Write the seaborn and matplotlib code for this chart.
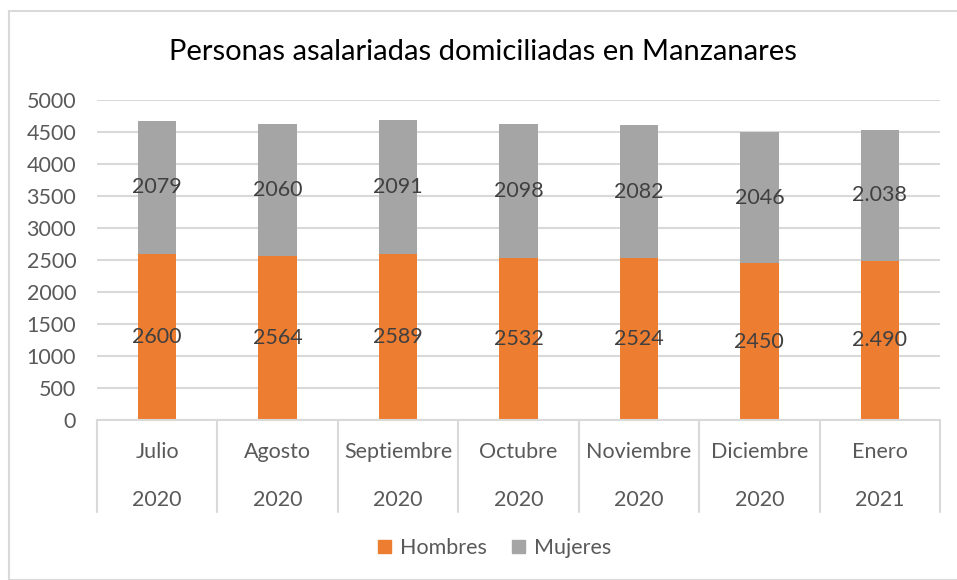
import numpy as np
import pandas as pd
import matplotlib
matplotlib.use("Agg")
import matplotlib.pyplot as plt
from matplotlib.patches import Rectangle, Patch
from matplotlib.transforms import blended_transform_factory
import seaborn as sns

# data
meses = ["Julio", "Agosto", "Septiembre", "Octubre", "Noviembre", "Diciembre", "Enero"]
anios = ["2020", "2020", "2020", "2020", "2020", "2020", "2021"]
hombres = [2600, 2564, 2589, 2532, 2524, 2450, 2490]
mujeres = [2079, 2060, 2091, 2098, 2082, 2046, 2038]
etiq_hombres = ["2600", "2564", "2589", "2532", "2524", "2450", "2.490"]
etiq_mujeres = ["2079", "2060", "2091", "2098", "2082", "2046", "2.038"]

naranja = "#ED7D31"
gris = "#A5A5A5"
texto = "#595959"
linea = "#D9D9D9"
fs = 15.5

df = pd.DataFrame({"mes": meses, "hombres": hombres, "mujeres": mujeres})
df["total"] = df["hombres"] + df["mujeres"]

sns.set_theme(style="white")
plt.rcParams["font.family"] = ["Lato", "DejaVu Sans"]

fig = plt.figure(figsize=(9.57, 5.8), dpi=100)
W, H = 957, 580
ax = fig.add_axes([97 / W, 1 - 420 / H, (940 - 97) / W, 320 / H])

# stacked bars: total in gray, hombres in orange on top of it
sns.barplot(data=df, x="mes", y="total", color=gris, width=0.32, saturation=1,
            linewidth=0, ax=ax)
sns.barplot(data=df, x="mes", y="hombres", color=naranja, width=0.32, saturation=1,
            linewidth=0, ax=ax)

ax.set_ylim(0, 5000)
ax.set_xlim(-0.5, len(meses) - 0.5)
ax.set_yticks(np.arange(0, 5001, 500))
ax.yaxis.grid(True, color=linea, linewidth=1.5)
ax.set_axisbelow(True)
ax.set_xlabel("")
ax.set_ylabel("")
ax.set_xticks([])
ax.tick_params(axis="y", labelsize=fs, colors=texto, length=0, pad=15)
for s in ["top", "right", "left"]:
    ax.spines[s].set_visible(False)
ax.spines["bottom"].set_color(linea)
ax.spines["bottom"].set_linewidth(1.5)

# data labels centred in each segment
for i in range(len(meses)):
    ax.text(i, hombres[i] / 2, etiq_hombres[i], ha="center", va="center",
            fontsize=fs, color="#404040")
    ax.text(i, hombres[i] + mujeres[i] / 2, etiq_mujeres[i], ha="center", va="center",
            fontsize=fs, color="#404040")

# two-level category axis
tr = blended_transform_factory(ax.transData, ax.transAxes)
for i in range(len(meses)):
    ax.text(i, -0.1, meses[i], transform=tr, ha="center", va="center",
            fontsize=fs, color=texto, clip_on=False)
    ax.text(i, -0.25, anios[i], transform=tr, ha="center", va="center",
            fontsize=fs, color=texto, clip_on=False)
for b in np.arange(-0.5, len(meses), 1.0):
    ax.plot([b, b], [0, -0.288], transform=tr, color=linea, lw=1.5, clip_on=False)

fig.text(0.505, 1 - 52 / H, "Personas asalariadas domiciliadas en Manzanares",
         ha="center", va="center", fontsize=21, color="#000000")

handles = [Patch(color=naranja, label="Hombres"), Patch(color=gris, label="Mujeres")]
fig.legend(handles=handles, loc="center", bbox_to_anchor=(0.517, 1 - 548 / H), ncol=2,
           frameon=False, fontsize=fs, labelcolor=texto, handlelength=0.6,
           handleheight=0.6, handletextpad=0.4, columnspacing=1.2)

# chart area border
fig.patches.append(Rectangle((9 / W, 0), 1, 1 - 11 / H, transform=fig.transFigure,
                             fill=False, edgecolor=linea, linewidth=1.5))

fig.savefig("out.png", dpi=100, facecolor="white")
